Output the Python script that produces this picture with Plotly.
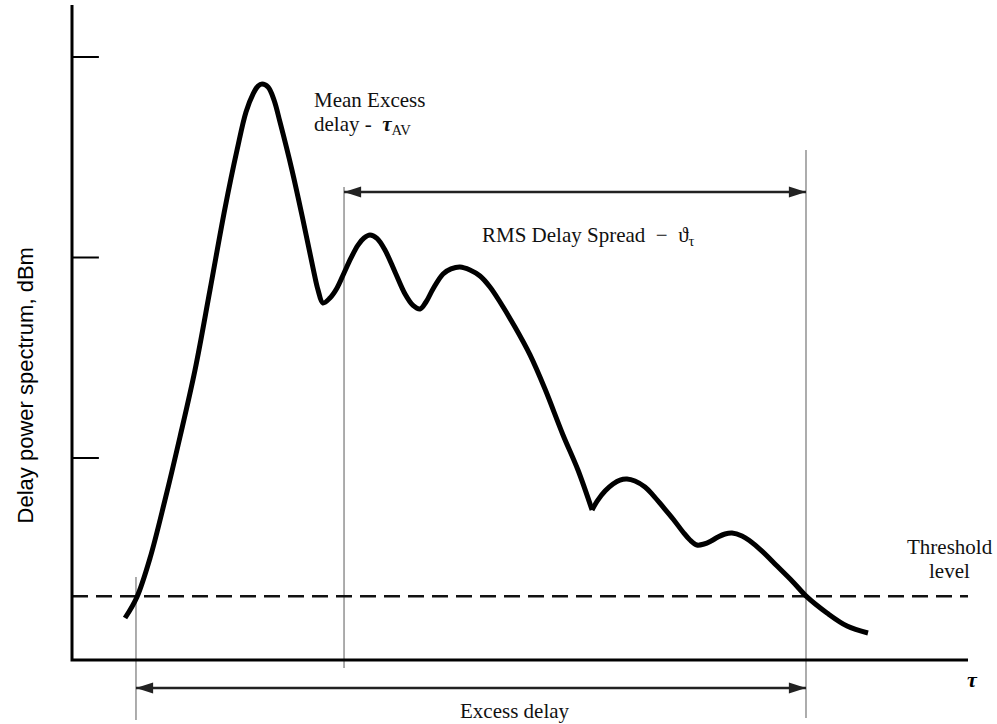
import plotly.graph_objects as go

# ---- data (tau in arbitrary delay units, power in dBm) ----
tau = [0.592, 0.725, 0.871, 1.038, 1.205, 1.373, 1.540, 1.708, 1.842, 1.942,
       2.020, 2.076, 2.121, 2.188, 2.254, 2.321, 2.455, 2.578, 2.690, 2.746,
       2.801, 2.879, 2.958, 3.036, 3.114, 3.192, 3.259, 3.326, 3.404, 3.493,
       3.605, 3.717, 3.806, 3.884, 3.951, 4.029, 4.141, 4.230, 4.330, 4.442,
       4.554, 4.665, 4.777, 4.944, 5.112, 5.279, 5.480, 5.647, 5.804, 5.871,
       5.949, 6.038, 6.116, 6.194, 6.283, 6.395, 6.484, 6.596, 6.708, 6.819,
       6.897, 6.975, 7.054, 7.132, 7.210, 7.288, 7.366, 7.478, 7.567, 7.701,
       7.824, 8.047, 8.203, 8.426, 8.650, 8.884]
power = [-37.98, -36.93, -34.99, -32.09, -28.95, -25.61, -21.62, -17.53, -14.64, -12.74,
         -11.85, -11.45, -11.35, -11.50, -12.14, -13.24, -15.64, -18.13, -20.52, -21.62,
         -22.27, -22.02, -21.52, -20.77, -20.02, -19.38, -19.03, -18.88, -19.05, -19.63,
         -20.72, -21.82, -22.39, -22.57, -22.22, -21.57, -20.82, -20.57, -20.47, -20.62,
         -20.92, -21.47, -22.22, -23.47, -24.86, -26.56, -28.85, -30.60, -32.59, -32.09,
         -31.65, -31.30, -31.10, -31.05, -31.15, -31.45, -31.85, -32.44, -33.04, -33.69,
         -34.09, -34.34, -34.29, -34.14, -33.94, -33.79, -33.74, -33.89, -34.14, -34.64,
         -35.19, -36.18, -36.93, -37.73, -38.38, -38.73]
cusp_index = 48  # sharp corner in the spectrum

threshold_dbm = -36.9
ytick_vals = [-10, -20, -30]
tau_first = 0.714      # first threshold crossing
tau_mean = 3.036       # mean excess delay
tau_last = 8.192       # last threshold crossing
tau_axis_max = 10.0
p_axis_top = -7.41
p_axis_bottom = -40.07
rms_arrow_level = -16.73
excess_arrow_level = -41.47
vline_spans = [(tau_first, -35.94, -43.07), (tau_mean, -16.48, -40.47), (tau_last, -14.64, -42.97)]

x_range = [-0.8036, 10.3237]
y_range = [-43.267, -7.157]
tick_len = 0.30

fig = go.Figure()

# thin vertical marker lines
vx, vy = [], []
for t, a, b in vline_spans:
    vx += [t, t, None]
    vy += [a, b, None]
fig.add_trace(go.Scatter(x=vx, y=vy, mode="lines",
                         line=dict(color="#808080", width=1.3), hoverinfo="skip"))

# threshold dashed line
fig.add_trace(go.Scatter(x=[0, tau_axis_max], y=[threshold_dbm, threshold_dbm], mode="lines",
                         line=dict(color="#111111", width=2.5, dash="16px,8px"), hoverinfo="skip"))

# axes
fig.add_trace(go.Scatter(x=[0, 0, tau_axis_max], y=[p_axis_top, p_axis_bottom, p_axis_bottom],
                         mode="lines", line=dict(color="black", width=3), hoverinfo="skip"))
tx, ty = [], []
for v in ytick_vals:
    tx += [0, tick_len, None]
    ty += [v, v, None]
fig.add_trace(go.Scatter(x=tx, y=ty, mode="lines", line=dict(color="black", width=2),
                         hoverinfo="skip"))

# double-headed arrows
for (x0, x1, lvl) in [(tau_mean, tau_last, rms_arrow_level), (tau_first, tau_last, excess_arrow_level)]:
    fig.add_trace(go.Scatter(
        x=[x0, x1], y=[lvl, lvl], mode="lines+markers",
        line=dict(color="#222222", width=2.5),
        marker=dict(symbol="arrow", size=18, angle=[-90, 90], color="#222222",
                    line=dict(width=0)),
        hoverinfo="skip"))

# delay power spectrum curve (two smooth pieces meeting at the cusp)
curve_line = dict(color="black", width=5, shape="spline", smoothing=1.0)
fig.add_trace(go.Scatter(x=tau[:cusp_index + 1], y=power[:cusp_index + 1], mode="lines",
                         line=curve_line))
fig.add_trace(go.Scatter(x=tau[cusp_index:], y=power[cusp_index:], mode="lines",
                         line=curve_line))

serif = dict(family="Liberation Serif, Times New Roman, serif", size=21, color="#111111")
nb = "\u00a0"

annotations = [
    dict(x=2.679, y=-12.14, text="Mean Excess", xanchor="left", showarrow=False, font=serif),
    dict(x=2.679, y=-13.39, text="delay -" + nb + nb + "<b><i>τ</i></b><sub>AV</sub>", xanchor="left",
         showarrow=False, font=serif),
    dict(x=5.759, y=-18.93, text="RMS Delay Spread" + nb + nb + "−" + nb + nb + "ϑ<sub>τ</sub>",
         showarrow=False, font=serif),
    dict(x=9.799, y=-34.44, text="Threshold", showarrow=False, font=serif),
    dict(x=9.799, y=-35.64, text="level", showarrow=False, font=serif),
    dict(x=4.944, y=-42.62, text="Excess delay", showarrow=False, font=serif),
    dict(x=10.045, y=-41.07, text="<b><i>τ</i></b>", showarrow=False,
         font=dict(family="Liberation Serif, serif", size=22, color="black")),
    dict(x=-0.520, y=-26.36, text="Delay power spectrum, dBm", textangle=-90, showarrow=False,
         font=dict(family="Liberation Sans, Arial, sans-serif", size=22, color="black")),
]

fig.update_layout(
    width=997, height=724,
    margin=dict(l=0, r=0, t=0, b=0),
    paper_bgcolor="white", plot_bgcolor="white",
    showlegend=False,
    xaxis=dict(range=x_range, visible=False),
    yaxis=dict(range=y_range, visible=False),
    annotations=annotations,
)

fig.write_html("out.html")
